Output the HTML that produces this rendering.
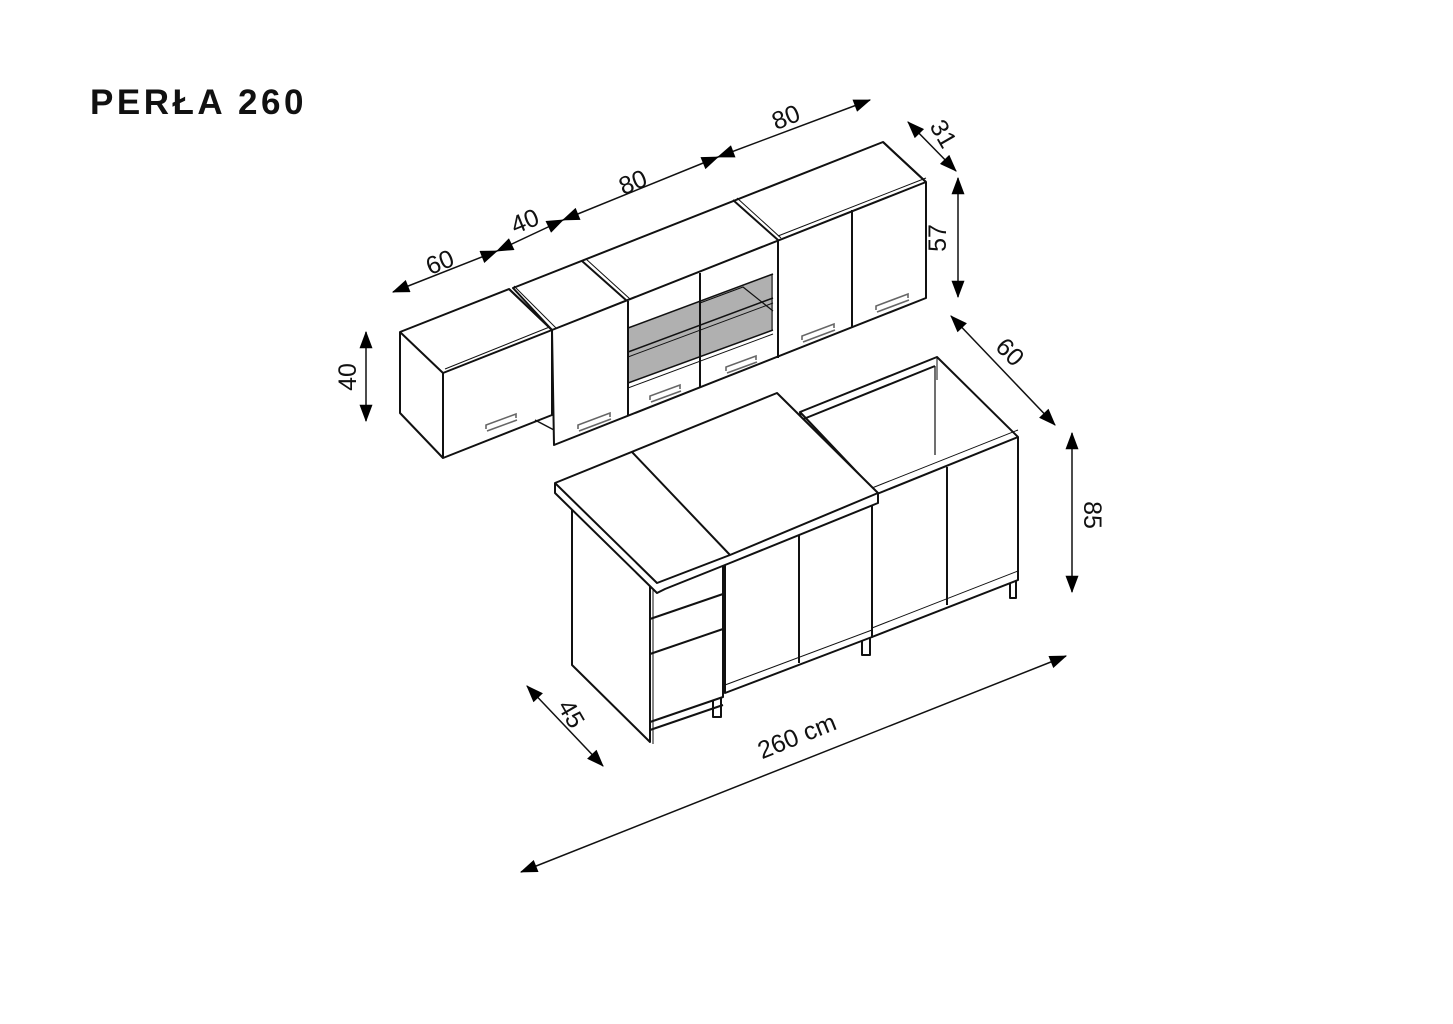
<!DOCTYPE html>
<html><head><meta charset="utf-8"><style>
html,body{margin:0;padding:0;background:#fff;}
svg{display:block;}
text{font-family:"Liberation Sans","DejaVu Sans",sans-serif;fill:#111;}
</style></head><body>
<svg width="1453" height="1024" viewBox="0 0 1453 1024" xmlns="http://www.w3.org/2000/svg">
<defs>
<marker id="a" viewBox="0 0 16 12" refX="15" refY="6" markerWidth="18" markerHeight="13" markerUnits="userSpaceOnUse" orient="auto-start-reverse">
<path d="M0,0 L16,6 L0,12 z" fill="#000"/></marker>
</defs>
<text x="90" y="114" font-size="35" font-weight="bold" style="letter-spacing:3.5px">PERŁA 260</text>

<g fill="none" stroke="#111" stroke-width="2" stroke-linejoin="round">
<polygon points="400,332 509,289 552,330 552,415 443,458 400,413" fill="#fff"/>
<polyline points="400,332 443,373 552,330"/>
<line x1="443" y1="373" x2="443" y2="458"/>
<line x1="445" y1="369" x2="552" y2="326" stroke-width="1"/>
<polygon points="552,330 513,288 883,142 926,182 926,298 554,445" fill="#fff"/>
<line x1="552" y1="330" x2="926" y2="182"/>
<line x1="509" y1="289" x2="552" y2="330"/>
<line x1="514" y1="286" x2="556" y2="328" stroke-width="1"/>
<line x1="582" y1="261" x2="627" y2="301"/>
<line x1="586" y1="259" x2="630" y2="299" stroke-width="1"/>
<line x1="733" y1="200" x2="778" y2="240"/>
<line x1="737" y1="198" x2="781" y2="238" stroke-width="1"/>
<line x1="883" y1="142" x2="926" y2="182"/>
<line x1="554" y1="430" x2="535" y2="420" stroke-width="1.5"/>
<polygon points="628,328 773,274 773,330 628,383" fill="#b0b0b0" stroke="none"/>
<polyline points="700,303 743,287 773,311" stroke-width="1.2"/>
<line x1="628" y1="352" x2="773" y2="298" stroke-width="1.5"/>
<line x1="628" y1="357" x2="773" y2="303" stroke-width="1"/>
<line x1="628" y1="328" x2="773" y2="274" stroke-width="1.5"/>
<line x1="628" y1="383" x2="773" y2="330" stroke-width="1.5"/>
<line x1="628" y1="388" x2="773" y2="334" stroke-width="1"/>
<line x1="628" y1="301" x2="628" y2="416"/>
<line x1="700" y1="273" x2="700" y2="388"/>
<line x1="778" y1="240" x2="778" y2="358"/>
<line x1="772" y1="274" x2="772" y2="330" stroke-width="1"/>
<line x1="852" y1="210" x2="852" y2="328"/>
<line x1="778" y1="236" x2="926" y2="178" stroke-width="1"/>
</g>
<g fill="none" stroke="#666" stroke-width="1.6">
<path d="M486,429 l0,-4 l30,-11 l0,4 M487,431 l30,-11"/>
<path d="M578,429 l0,-4 l32,-12 l0,4 M579,431 l32,-12"/>
<path d="M650,400 l0,-4 l30,-11 l0,4 M651,402 l30,-11"/>
<path d="M726,371 l0,-4 l30,-11 l0,4 M727,373 l30,-11"/>
<path d="M802,340 l0,-4 l32,-12 l0,4 M803,342 l32,-12"/>
<path d="M876,310 l0,-4 l32,-12 l0,4 M877,312 l32,-12"/>
<path d="M674,599 l0,-4 l30,-11 l0,4 M675,601 l30,-11"/>
<path d="M674,629 l0,-4 l30,-11 l0,4 M675,631 l30,-11"/>
<path d="M674,664 l0,-4 l30,-11 l0,4 M675,666 l30,-11"/>
<path d="M748,564 l0,-4 l32,-12 l0,4 M749,566 l32,-12"/>
<path d="M822,534 l0,-4 l32,-12 l0,4 M823,536 l32,-12"/>
<path d="M895,505 l0,-4 l32,-12 l0,4 M896,507 l32,-12"/>
<path d="M970,473 l0,-4 l32,-12 l0,4 M971,475 l32,-12"/>
</g>

<g fill="none" stroke="#111" stroke-width="2" stroke-linejoin="round">
<polygon points="800,412 937,357 1018,437 1018,580 872,637 872,488" fill="#fff"/>
<polyline points="800,412 801,420 935,366"/>
<line x1="935" y1="366" x2="935" y2="455" stroke-width="1.2"/>
<line x1="937" y1="357" x2="937" y2="380" stroke-width="1"/>
<line x1="872" y1="496" x2="1018" y2="437"/>
<line x1="872" y1="488" x2="1018" y2="430" stroke-width="1"/>
<line x1="947" y1="467" x2="947" y2="605"/>
<line x1="872" y1="628" x2="1018" y2="571" stroke-width="1"/>
<path d="M1010,583 v15 h6 v-18"/>
<path d="M862,640 v15 h8 v-18"/>
<polygon points="725,558 872,503 872,637 725,693" fill="#fff"/>
<line x1="799" y1="530" x2="799" y2="663"/>
<line x1="725" y1="685" x2="872" y2="630" stroke-width="1"/>
<path d="M713,697 v20 h8 v-22"/>
<polygon points="572,507 650,583 650,742 572,665" fill="#fff"/>
<polygon points="650,583 723,560 723,697 650,722" fill="#fff"/>
<line x1="653" y1="585" x2="653" y2="744" stroke-width="1"/>
<line x1="650" y1="619" x2="723" y2="594"/>
<line x1="650" y1="654" x2="723" y2="629"/>
<line x1="650" y1="730" x2="723" y2="705"/>
<line x1="650" y1="742" x2="650" y2="722"/>
<polygon points="555,483 777,393 878,493 878,503 730,563 665,589 657,593 555,493" fill="#fff"/>
<polyline points="555,483 657,583 730,555 878,493"/>
<line x1="632" y1="452" x2="730" y2="555"/>
</g>

<g stroke="#111" stroke-width="1.5" fill="none">
<line x1="393" y1="292" x2="497" y2="251" marker-start="url(#a)" marker-end="url(#a)"/>
<line x1="497" y1="251" x2="563" y2="220" marker-start="url(#a)" marker-end="url(#a)"/>
<line x1="563" y1="220" x2="718" y2="157" marker-start="url(#a)" marker-end="url(#a)"/>
<line x1="718" y1="157" x2="870" y2="100" marker-start="url(#a)" marker-end="url(#a)"/>
<line x1="908" y1="122" x2="956" y2="171" marker-start="url(#a)" marker-end="url(#a)"/>
<line x1="958" y1="178" x2="958" y2="297" marker-start="url(#a)" marker-end="url(#a)"/>
<line x1="366" y1="332" x2="366" y2="421" marker-start="url(#a)" marker-end="url(#a)"/>
<line x1="951" y1="316" x2="1055" y2="425" marker-start="url(#a)" marker-end="url(#a)"/>
<line x1="1072" y1="433" x2="1072" y2="592" marker-start="url(#a)" marker-end="url(#a)"/>
<line x1="527" y1="686" x2="603" y2="766" marker-start="url(#a)" marker-end="url(#a)"/>
<line x1="521" y1="872" x2="1066" y2="656" marker-start="url(#a)" marker-end="url(#a)"/>
</g>
<g font-size="25">
<text transform="translate(443,270) rotate(-22)" text-anchor="middle">60</text>
<text transform="translate(528,229) rotate(-22)" text-anchor="middle">40</text>
<text transform="translate(636,190) rotate(-22)" text-anchor="middle">80</text>
<text transform="translate(789,125) rotate(-22)" text-anchor="middle">80</text>
<text transform="translate(936,138) rotate(60)" text-anchor="middle">31</text>
<text transform="translate(946,238) rotate(-90)" text-anchor="middle">57</text>
<text transform="translate(356,377) rotate(-90)" text-anchor="middle">40</text>
<text transform="translate(1004,358) rotate(45)" text-anchor="middle">60</text>
<text transform="translate(1084,515) rotate(90)" text-anchor="middle">85</text>
<text transform="translate(564,718) rotate(60)" text-anchor="middle">45</text>
<text transform="translate(800,744) rotate(-22)" text-anchor="middle">260 cm</text>
</g>
</svg>
</body></html>
